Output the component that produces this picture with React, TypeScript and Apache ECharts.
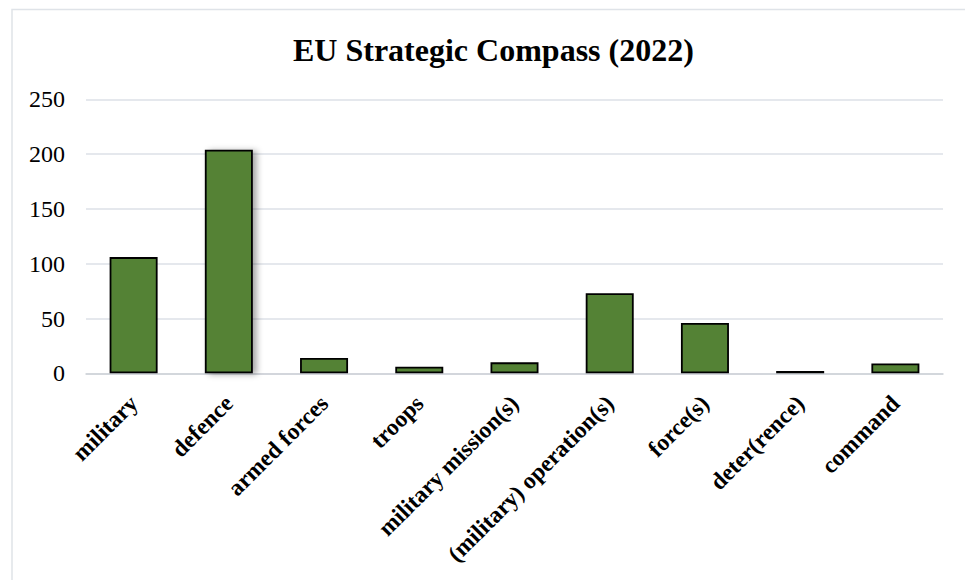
import React, { useEffect, useRef } from "react";
import * as echarts from "echarts";

const titleText = "EU Strategic Compass (2022)";
const categories = [
  "military",
  "defence",
  "armed forces",
  "troops",
  "military mission(s)",
  "(military) operation(s)",
  "force(s)",
  "deter(rence)",
  "command",
];
const counts = [106, 204, 14, 6, 10, 73, 46, 2, 9];
const yMin = 0;
const yMax = 250;
const yStep = 50;
const shadowedCategory = "defence";

const FONT = '"Liberation Serif", "Times New Roman", serif';

export default function App() {
  const ref = useRef<HTMLDivElement>(null);
  useEffect(() => {
    if (!ref.current) return;
    const chart = echarts.init(ref.current, undefined, { renderer: "svg" });
    const data = counts.map((v, i) =>
      categories[i] === shadowedCategory
        ? {
            value: v,
            itemStyle: {
              shadowColor: "rgba(0,0,0,0.35)",
              shadowBlur: 6,
              shadowOffsetX: 4,
              shadowOffsetY: 1,
            },
          }
        : v
    );
    chart.setOption({
      animation: false,
      backgroundColor: "#ffffff",
      textStyle: { fontFamily: FONT },
      graphic: [
        {
          type: "rect",
          shape: { x: 12, y: 9.5, width: 1000, height: 620 },
          style: { fill: "none", stroke: "#dfe3e8", lineWidth: 1.5 },
          silent: true,
          z: -1,
        },
      ],
      title: {
        text: titleText,
        left: 288,
        top: 29,
        textStyle: {
          fontFamily: FONT,
          fontSize: 32,
          fontWeight: "bold",
          color: "#000",
        },
      },
      grid: { left: 86, right: 22, top: 99.3, bottom: 206.7 },
      xAxis: {
        type: "category",
        data: categories,
        axisLine: { show: true, lineStyle: { color: "#cdd1d6", width: 1.5 } },
        axisTick: { show: false },
        axisLabel: {
          interval: 0,
          rotate: 45,
          margin: 26,
          fontFamily: FONT,
          fontSize: 23.5,
          fontWeight: "bold",
          color: "#000",
        },
      },
      yAxis: {
        type: "value",
        min: yMin,
        max: yMax,
        interval: yStep,
        axisLine: { show: false },
        axisTick: { show: false },
        splitLine: { lineStyle: { color: "#dde1e7", width: 1.5 } },
        axisLabel: {
          margin: 21,
          fontFamily: FONT,
          fontSize: 24,
          color: "#000",
        },
      },
      series: [
        {
          type: "bar",
          data,
          barWidth: 48,
          itemStyle: {
            color: "#548235",
            borderColor: "#000000",
            borderWidth: 1.8,
          },
        },
      ],
    });
    return () => chart.dispose();
  }, []);
  return (
    <div
      ref={ref}
      style={{ position: "absolute", left: 0, top: 0, width: 965, height: 580 }}
    />
  );
}
